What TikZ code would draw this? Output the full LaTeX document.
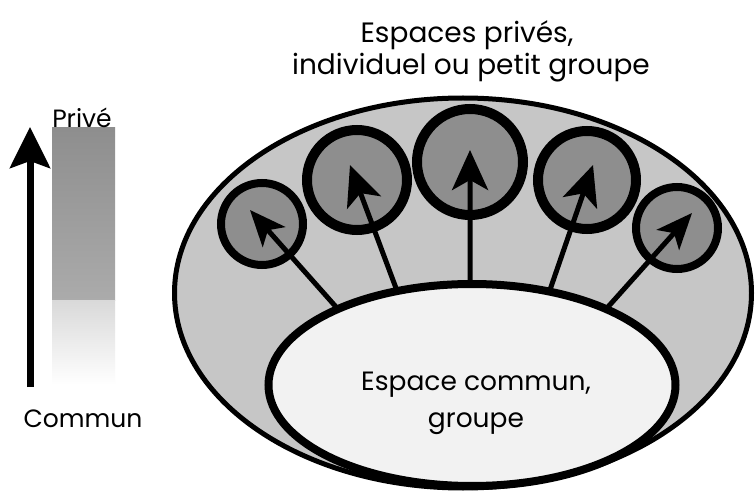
\documentclass[tikz,border=0pt]{standalone}
\usepackage{fontspec}
\setmainfont{Poppins}
\usetikzlibrary{arrows.meta,shapes.geometric}

\definecolor{zonegray}{HTML}{C6C6C6}
\definecolor{privgray}{HTML}{8E8E8E}
\definecolor{commonfill}{HTML}{F2F2F2}

\pgfdeclarelayer{front}
\pgfsetlayers{main,front}

\tikzset{
  zone/.style={ellipse, draw=black, line width=5pt, fill=zonegray, inner sep=0pt},
  commonzone/.style={ellipse, draw=black, line width=8pt, fill=commonfill, inner sep=0pt},
  privzone/.style={circle, draw=black, fill=privgray, inner sep=0pt},
  link/.style={line width=5pt, shorten <=-8pt, -{Stealth[length=40pt,width=36pt,inset=10pt]}},
  smalllink/.style={line width=5pt, shorten <=-8pt, -{Stealth[length=36pt,width=30pt,inset=9pt]}},
  label/.style={font=\fontsize{25}{30}\selectfont, anchor=base},
  heading/.style={font=\fontsize{28}{32}\selectfont, anchor=base},
  bodytext/.style={font=\fontsize{26.5}{37}\selectfont, anchor=base}
}

\begin{document}
\begin{tikzpicture}[x=1pt,y=1pt]
  \useasboundingbox[fill=white] (0,0) rectangle (756,491);

  % scale from common to private
  \shade[top color=privgray, bottom color=black!33] (52,191) rectangle (115,363);
  \shade[top color=black!15, bottom color=white] (52,106) rectangle (115,191);
  \coordinate (scalebottom) at (30,104);
  \coordinate (scaletop) at (30,364);
  \draw[line width=7pt, -{Stealth[length=41pt,width=40pt,inset=7pt]}] (scalebottom) -- (scaletop);
  \node[label] (prive) at (82,363) {Privé};
  \node[label] (commun) at (83,64) {Commun};

  % heading
  \node[heading] (title1) at (467,448) {Espaces privés,};
  \node[heading] (title2) at (471,416) {individuel ou petit groupe};

  % outer zone
  \node[zone, minimum width=577pt, minimum height=390pt] (all) at (463,198) {};

  % private spaces
  \node[privzone, line width=8pt, minimum size=82pt] (p1) at (262,267) {};
  \node[privzone, line width=10pt, minimum size=100pt] (p2) at (357,311) {};
  \node[privzone, line width=10pt, minimum size=106pt] (p3) at (470,329) {};
  \node[privzone, line width=10pt, minimum size=98pt] (p4) at (587,311) {};
  \node[privzone, line width=8pt, minimum size=82pt] (p5) at (677,263) {};

  \coordinate (t1) at (250,281);
  \coordinate (t2) at (350,326);
  \coordinate (t3) at (470,341);
  \coordinate (t4) at (593,326);
  \coordinate (t5) at (692,278);

  % common space, in front of the links
  \begin{pgfonlayer}{front}
    \node[commonzone, minimum width=407pt, minimum height=202pt] (common) at (472,106) {};
    \node[bodytext] (commontext1) at (476,101) {Espace commun,};
    \node[bodytext] (commontext2) at (476,64) {groupe};
  \end{pgfonlayer}

  % links from the common space to each private space
  \draw[smalllink] (common.150) -- (t1);
  \draw[link] (common.128) -- (t2);
  \draw[link] (common.91) -- (t3);
  \draw[link] (common.51) -- (t4);
  \draw[smalllink] (common.30) -- (t5);
\end{tikzpicture}
\end{document}
